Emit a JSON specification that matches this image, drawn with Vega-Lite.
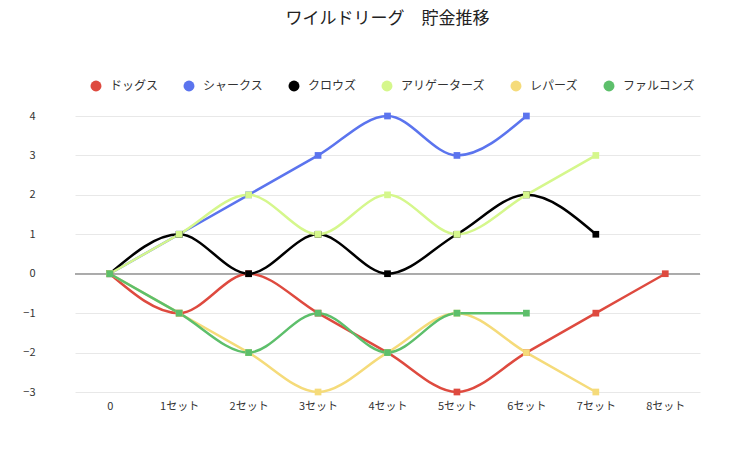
{
  "$schema": "https://vega.github.io/schema/vega-lite/v6.json",
  "autosize": {"type": "none"},
  "width": 625,
  "height": 276,
  "padding": {"left": 75, "top": 116, "right": 50, "bottom": 77},
  "background": "white",
  "title": {"text": "ワイルドリーグ　貯金推移", "fontSize": 17, "font": "Noto Sans CJK JP", "fontWeight": "normal", "color": "#222", "offset": 52},
  "data": {
    "values": [
      {"team": "ドッグス", "set": "0", "v": 0}, {"team": "ドッグス", "set": "1セット", "v": -1}, {"team": "ドッグス", "set": "2セット", "v": 0}, {"team": "ドッグス", "set": "3セット", "v": -1}, {"team": "ドッグス", "set": "4セット", "v": -2}, {"team": "ドッグス", "set": "5セット", "v": -3}, {"team": "ドッグス", "set": "6セット", "v": -2}, {"team": "ドッグス", "set": "7セット", "v": -1}, {"team": "ドッグス", "set": "8セット", "v": 0},
      {"team": "シャークス", "set": "0", "v": 0}, {"team": "シャークス", "set": "1セット", "v": 1}, {"team": "シャークス", "set": "2セット", "v": 2}, {"team": "シャークス", "set": "3セット", "v": 3}, {"team": "シャークス", "set": "4セット", "v": 4}, {"team": "シャークス", "set": "5セット", "v": 3}, {"team": "シャークス", "set": "6セット", "v": 4},
      {"team": "クロウズ", "set": "0", "v": 0}, {"team": "クロウズ", "set": "1セット", "v": 1}, {"team": "クロウズ", "set": "2セット", "v": 0}, {"team": "クロウズ", "set": "3セット", "v": 1}, {"team": "クロウズ", "set": "4セット", "v": 0}, {"team": "クロウズ", "set": "5セット", "v": 1}, {"team": "クロウズ", "set": "6セット", "v": 2}, {"team": "クロウズ", "set": "7セット", "v": 1},
      {"team": "アリゲーターズ", "set": "0", "v": 0}, {"team": "アリゲーターズ", "set": "1セット", "v": 1}, {"team": "アリゲーターズ", "set": "2セット", "v": 2}, {"team": "アリゲーターズ", "set": "3セット", "v": 1}, {"team": "アリゲーターズ", "set": "4セット", "v": 2}, {"team": "アリゲーターズ", "set": "5セット", "v": 1}, {"team": "アリゲーターズ", "set": "6セット", "v": 2}, {"team": "アリゲーターズ", "set": "7セット", "v": 3},
      {"team": "レパーズ", "set": "0", "v": 0}, {"team": "レパーズ", "set": "1セット", "v": -1}, {"team": "レパーズ", "set": "2セット", "v": -2}, {"team": "レパーズ", "set": "3セット", "v": -3}, {"team": "レパーズ", "set": "4セット", "v": -2}, {"team": "レパーズ", "set": "5セット", "v": -1}, {"team": "レパーズ", "set": "6セット", "v": -2}, {"team": "レパーズ", "set": "7セット", "v": -3},
      {"team": "ファルコンズ", "set": "0", "v": 0}, {"team": "ファルコンズ", "set": "1セット", "v": -1}, {"team": "ファルコンズ", "set": "2セット", "v": -2}, {"team": "ファルコンズ", "set": "3セット", "v": -1}, {"team": "ファルコンズ", "set": "4セット", "v": -2}, {"team": "ファルコンズ", "set": "5セット", "v": -1}, {"team": "ファルコンズ", "set": "6セット", "v": -1}
    ]
  },
  "encoding": {
    "x": {"field": "set", "type": "ordinal", "sort": ["0", "1セット", "2セット", "3セット", "4セット", "5セット", "6セット", "7セット", "8セット"], "scale": {"type": "point", "padding": 0.5}, "axis": {"title": null, "labelAngle": 0, "domain": false, "ticks": false, "grid": false, "labelPadding": 8}},
    "y": {"field": "v", "type": "quantitative", "scale": {"domain": [-3, 4], "nice": false}, "axis": {"title": null, "tickCount": 7, "domain": false, "ticks": false, "gridColor": "#e8e8e8", "labelPadding": 40}},
    "color": {"field": "team", "type": "nominal", "sort": ["ドッグス", "シャークス", "クロウズ", "アリゲーターズ", "レパーズ", "ファルコンズ"],
      "scale": {"domain": ["ドッグス", "シャークス", "クロウズ", "アリゲーターズ", "レパーズ", "ファルコンズ"], "range": ["#de4a3f", "#5b74ee", "#000000", "#d5f78c", "#f5db7a", "#5dbf6b"]},
      "legend": {"title": null, "orient": "none", "legendX": 15, "legendY": -36, "direction": "horizontal", "symbolType": "circle", "symbolSize": 120, "symbolStrokeWidth": 0, "columnPadding": 24, "labelOffset": 8, "labelFontSize": 12}}
  },
  "layer": [
    {"mark": {"type": "rule", "color": "#aaa", "strokeWidth": 1}, "encoding": {"y": {"datum": 0}, "color": {"value": "#aaa"}, "x": {}}},
    {"mark": {"type": "line", "interpolate": "monotone", "strokeWidth": 2.5}},
    {"mark": {"type": "square", "size": 45, "opacity": 1, "filled": true}}
  ],
  "config": {
    "font": "Noto Sans CJK JP",
    "view": {"stroke": null},
    "axis": {"labelFontSize": 11, "labelColor": "#333"},
    "legend": {"labelColor": "#333"}
  }
}
